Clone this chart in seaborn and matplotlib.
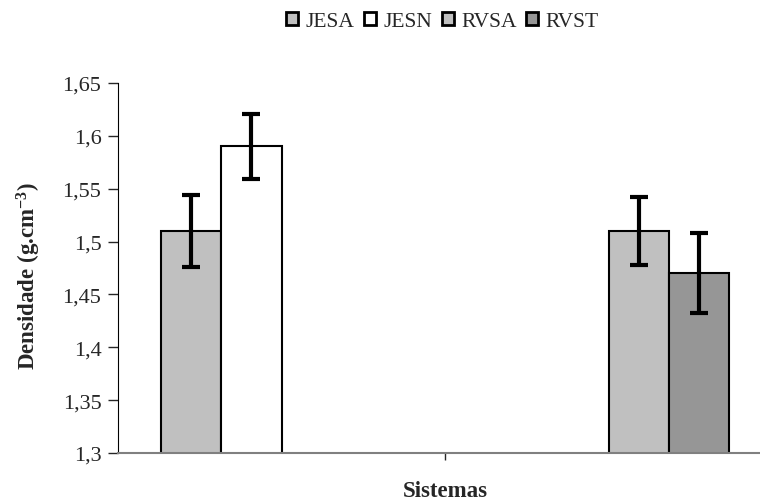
import pandas as pd
import matplotlib
matplotlib.use('Agg')
import matplotlib.pyplot as plt
import seaborn as sns

# Data
systems = ['JESA', 'JESN', 'RVSA', 'RVST']
groups = ['G1', 'G1', 'G2', 'G2']
density = [1.51, 1.59, 1.51, 1.47]
errors = [0.034, 0.031, 0.032, 0.038]
colors = ['#c0c0c0', '#ffffff', '#c0c0c0', '#969696']
y_ticks = [1.3, 1.35, 1.4, 1.45, 1.5, 1.55, 1.6, 1.65]

df = pd.DataFrame({'grupo': groups, 'sistema': systems, 'densidade': density})

sns.set_style('white')
plt.rcParams['font.family'] = ['Liberation Serif', 'DejaVu Serif']
plt.rcParams['mathtext.fontset'] = 'custom'
plt.rcParams['mathtext.rm'] = 'Liberation Serif'
plt.rcParams['mathtext.bf'] = 'Liberation Serif:bold'
plt.rcParams['mathtext.default'] = 'bf'

fig = plt.figure(figsize=(7.6, 5.02), dpi=100)
ax = fig.add_axes([0.1553, 0.0956, 0.8605, 0.7371])

sns.barplot(data=df, x='grupo', y='densidade', hue='sistema',
            order=['G1', 'G2'], hue_order=systems, palette=colors,
            width=0.74, edgecolor='black', linewidth=1.5, errorbar=None, ax=ax)

# error bars on top of each bar
for container, err in zip(ax.containers, errors):
    for bar in container:
        if bar.get_height() != bar.get_height():
            continue
        ax.errorbar(bar.get_x() + bar.get_width() / 2, bar.get_height(), yerr=err,
                    fmt='none', ecolor='black', elinewidth=3, capsize=6.5, capthick=3, zorder=5)

handles, labels = ax.get_legend_handles_labels()
ax.get_legend().remove()
leg = fig.legend(handles, labels, loc='center', bbox_to_anchor=(0.582, 0.956), ncol=4,
                 frameon=False, fontsize=15.5, handlelength=0.55, handleheight=0.55,
                 handletextpad=0.35, columnspacing=0.45)
for h in leg.legend_handles:
    h.set_linewidth(2)

ax.set_xlim(-0.5, 1.5)
ax.set_ylim(1.3, 1.65)
ax.set_yticks(y_ticks)
ax.set_yticklabels([f'{v:g}'.replace('.', ',') for v in y_ticks])
ax.set_xticks([0.5])
ax.set_xticklabels([''])
ax.tick_params(axis='y', direction='out', length=7, width=1, labelsize=16, left=True, pad=5)
ax.tick_params(axis='x', direction='out', length=5, width=1, bottom=True)

ax.spines['top'].set_visible(False)
ax.spines['right'].set_visible(False)
ax.spines['left'].set_color('black')
ax.spines['bottom'].set_color('#808080')
ax.spines['bottom'].set_linewidth(1.5)

ax.set_xlabel('Sistemas', fontsize=16.5, fontweight='bold')
ax.set_ylabel('Densidade (g.cm$^{-3}$)', fontsize=16.5, fontweight='bold')
ax.xaxis.set_label_coords(0.5, -0.074)
ax.yaxis.set_label_coords(-0.114, 0.48)

fig.savefig('out.png', dpi=100)
